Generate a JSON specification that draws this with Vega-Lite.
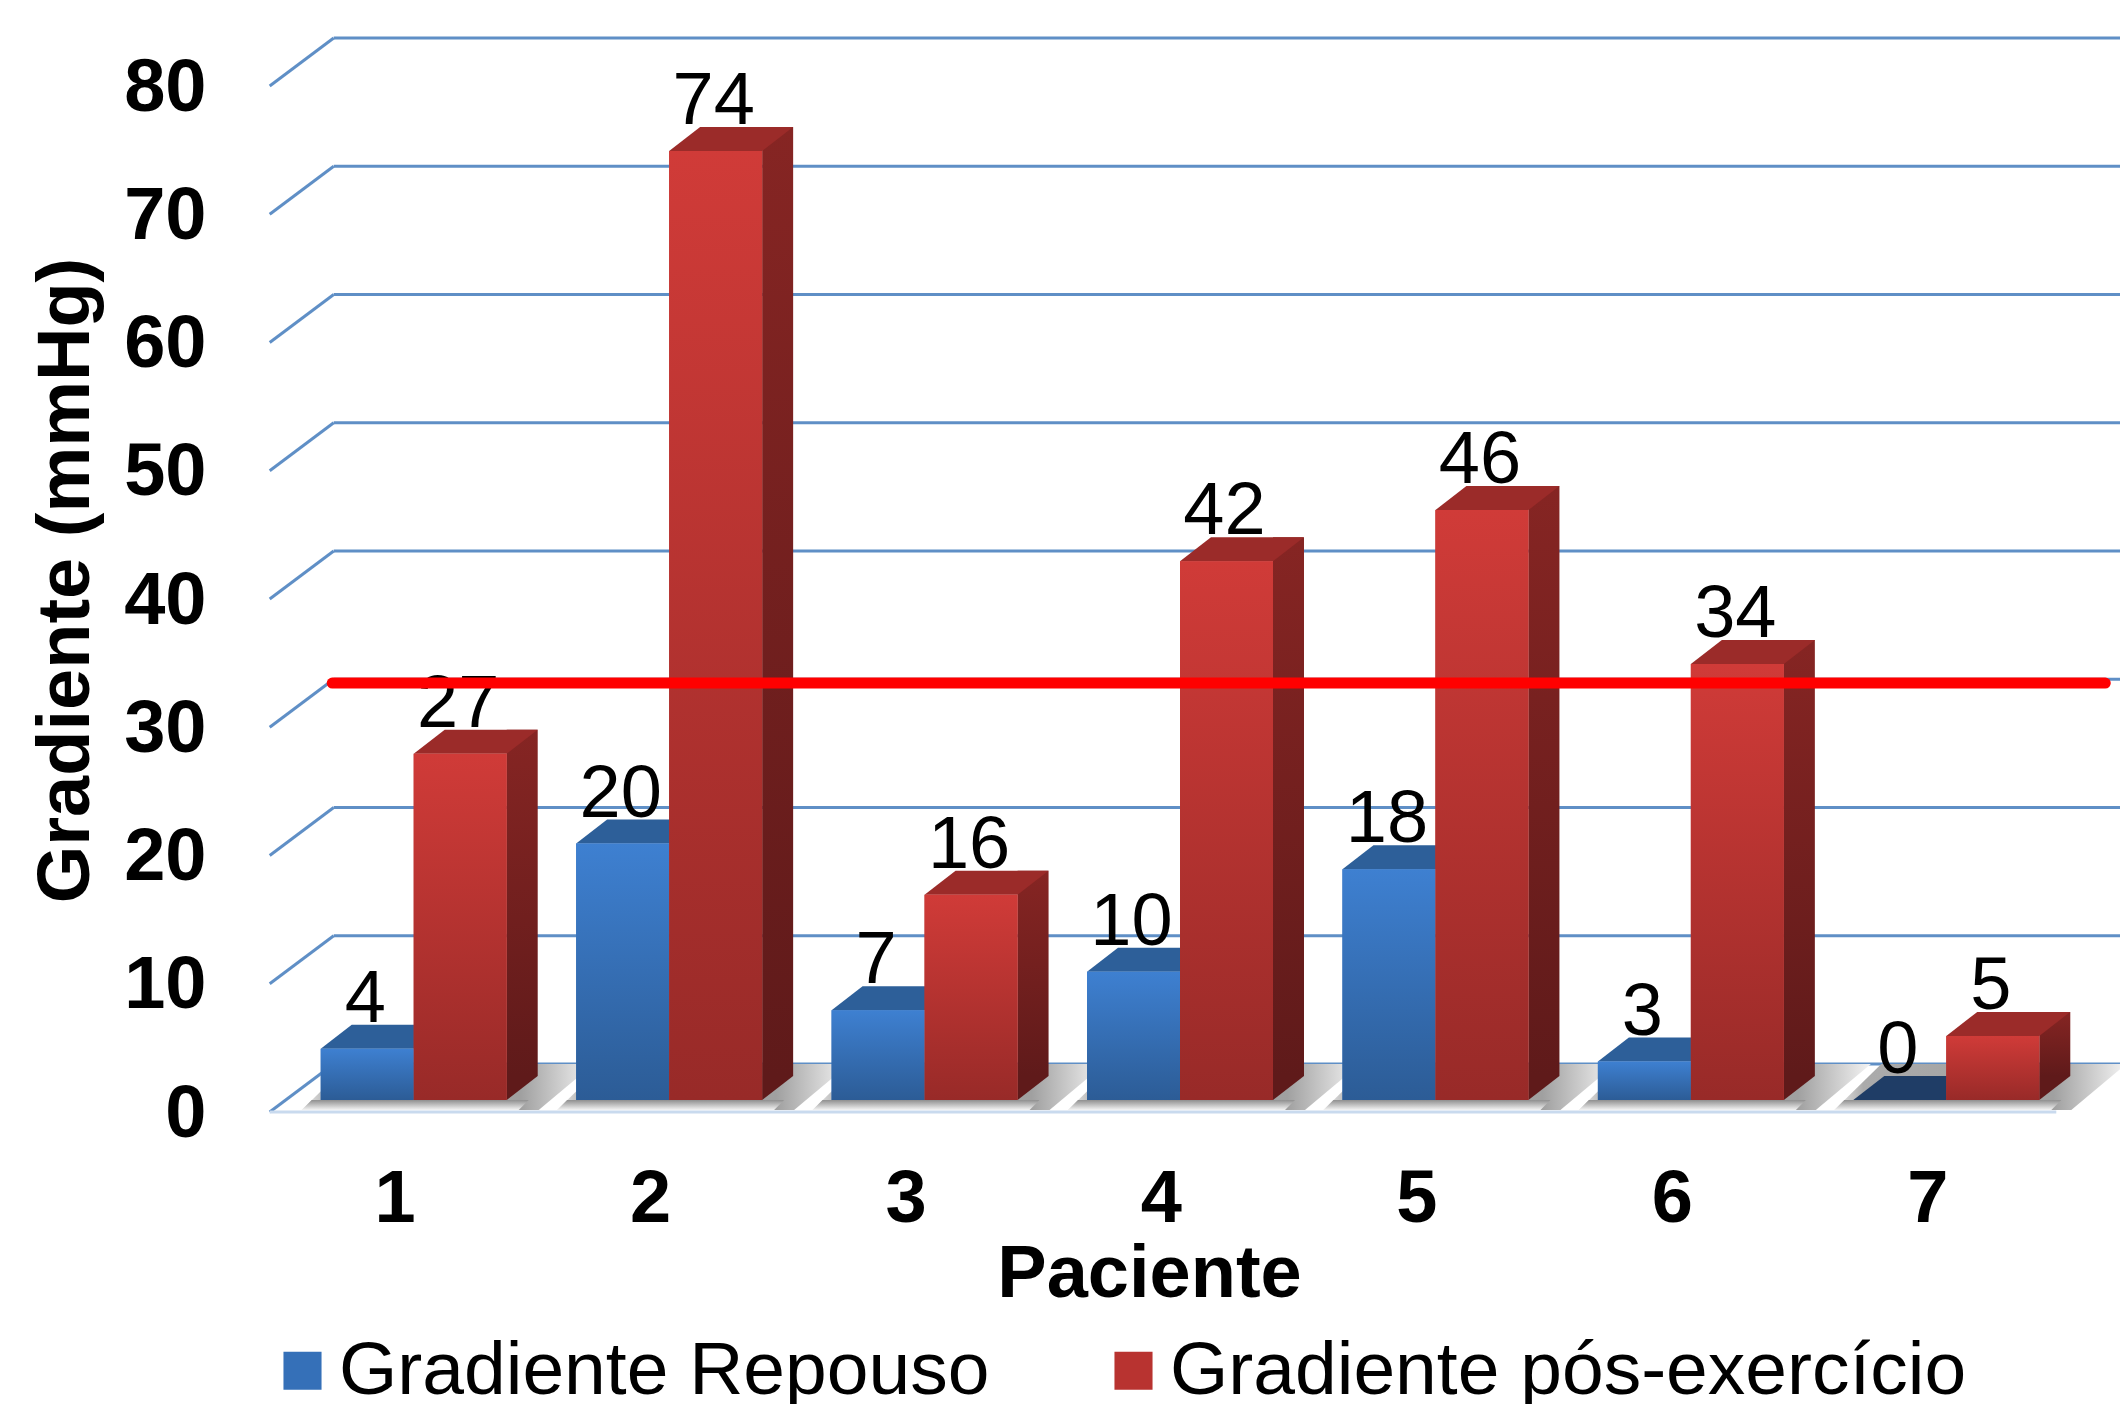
{
"$schema":"https://vega.github.io/schema/vega-lite/v6.json",
"width":1788,"height":1026,
"autosize":{"type":"none"},
"padding":{"left":286,"top":74,"right":46,"bottom":304},
"background":"white",
"config":{"view":{"stroke":null},"font":"Liberation Sans"},
"datasets":{
"barras":[
{"paciente":"1","serie":"Gradiente Repouso","valor":4},{"paciente":"1","serie":"Gradiente pós-exercício","valor":27},
{"paciente":"2","serie":"Gradiente Repouso","valor":20},{"paciente":"2","serie":"Gradiente pós-exercício","valor":74},
{"paciente":"3","serie":"Gradiente Repouso","valor":7},{"paciente":"3","serie":"Gradiente pós-exercício","valor":16},
{"paciente":"4","serie":"Gradiente Repouso","valor":10},{"paciente":"4","serie":"Gradiente pós-exercício","valor":42},
{"paciente":"5","serie":"Gradiente Repouso","valor":18},{"paciente":"5","serie":"Gradiente pós-exercício","valor":46},
{"paciente":"6","serie":"Gradiente Repouso","valor":3},{"paciente":"6","serie":"Gradiente pós-exercício","valor":34},
{"paciente":"7","serie":"Gradiente Repouso","valor":0},{"paciente":"7","serie":"Gradiente pós-exercício","valor":5}
],
"grade":[{"v":0},{"v":10},{"v":20},{"v":30},{"v":40},{"v":50},{"v":60},{"v":70},{"v":80}],
"grupos":[{"paciente":"1"},{"paciente":"2"},{"paciente":"3"},{"paciente":"4"},{"paciente":"5"},{"paciente":"6"},{"paciente":"7"}]
},
"layer":[
{"data":{"name":"grade"},
"mark":{"type":"rule","stroke":"#5f8fc6","strokeWidth":3,"xOffset":-80,"x2Offset":176,"yOffset":-36},
"encoding":{"x":{"datum":"1","type":"nominal"},"x2":{"datum":"7"},"y":{"field":"v","type":"quantitative","scale":{"domain":[0,80],"nice":false,"zero":false},
"axis":{"title":"Gradiente (mmHg)","titleFontSize":74,"titleFont":"Liberation Sans","titleFontWeight":"bold","titleColor":"black","titleX":-182,"titleY":506,"labelFontSize":74,"labelFont":"Liberation Sans","labelFontWeight":"bold","labelColor":"black","labelPadding":80,"labelOffset":14,"ticks":false,"domain":false,"grid":false,"values":[0,10,20,30,40,50,60,70,80]}}}},
{"data":{"name":"grade"},
"mark":{"type":"point","shape":"M-144,12L-80,-36","size":4,"filled":false,"stroke":"#5f8fc6","strokeWidth":3,"opacity":1},
"encoding":{"x":{"datum":"1","type":"nominal"},"y":{"field":"v","type":"quantitative"}}},
{"data":{"name":"grupos"},
"mark":{"type":"point","shape":"M-112,10L125,10L180,-36L-65,-36Z","size":4,"filled":true,"stroke":null,"opacity":1,
"fill":{"gradient":"linear","x1":0,"y1":0,"x2":1,"y2":0,"stops":[{"offset":0,"color":"#ececec"},{"offset":0.1,"color":"#ababab"},{"offset":0.75,"color":"#a0a0a0"},{"offset":1,"color":"#f4f4f4"}]}},
"encoding":{"x":{"field":"paciente","type":"nominal","scale":{"paddingInner":0.272,"paddingOuter":0.136},
"axis":{"title":"Paciente","titleFontSize":74,"titleFont":"Liberation Sans","titleFontWeight":"bold","titleColor":"black","titleX":863,"titleY":138,"labelFontSize":74,"labelFont":"Liberation Sans","labelFontWeight":"bold","labelColor":"black","labelAngle":0,"labelPadding":99,"labelOffset":2,"ticks":false,"domain":false,"grid":false}},
"y":{"datum":0,"type":"quantitative"}}},
{"data":{"name":"grupos"},
"mark":{"type":"point","shape":"M-102,0L115,0L105,10L-112,10Z","size":4,"filled":true,"stroke":null,"opacity":1,
"fill":{"gradient":"linear","x1":0,"y1":0,"x2":0,"y2":1,"stops":[{"offset":0,"color":"#8f8f8f"},{"offset":1,"color":"#f4f4f4"}]}},
"encoding":{"x":{"field":"paciente","type":"nominal"},"y":{"datum":0,"type":"quantitative"}}},
{"data":{"name":"grade"},"transform":[{"filter":"datum.v===0"}],
"mark":{"type":"rule","stroke":"#c9daee","strokeWidth":3,"xOffset":-144,"x2Offset":110,"yOffset":12},
"encoding":{"x":{"datum":"1","type":"nominal"},"x2":{"datum":"7"},"y":{"field":"v","type":"quantitative"}}},
{"data":{"name":"barras"},"transform":[{"filter":"datum.serie==='Gradiente Repouso'"}],
"mark":{"type":"point","shape":"M-46.5,0L46.5,0L77.5,-24L-15.5,-24Z","size":4,"filled":true,"stroke":null,"opacity":1},
"encoding":{"x":{"field":"paciente","type":"nominal"},"xOffset":{"field":"serie","scale":{"domain":["Gradiente Repouso","Gradiente pós-exercício"]}},"y":{"field":"valor","type":"quantitative"},
"fill":{"condition":{"test":"datum.valor===0","value":"#1f3d66"},"value":"#2d5f99"}}},
{"data":{"name":"barras"},"transform":[{"filter":"datum.serie==='Gradiente pós-exercício'"}],
"mark":{"type":"bar","width":31,"xOffset":108.5,"yOffset":-24,"y2Offset":-24,"cornerRadius":0,
"color":{"gradient":"linear","x1":0,"y1":0,"x2":0,"y2":1,"stops":[{"offset":0,"color":"#862523"},{"offset":1,"color":"#5f1a1a"}]}},
"encoding":{"x":{"field":"paciente","type":"nominal"},"y":{"field":"valor","type":"quantitative"},"y2":{"datum":0}}},
{"data":{"name":"barras"},"transform":[{"filter":"datum.serie==='Gradiente pós-exercício'"}],
"mark":{"type":"point","shape":"M46.5,0L77.5,-24L46.5,-24Z","size":4,"filled":true,"stroke":null,"opacity":1,"fill":"#5f1a1a"},
"encoding":{"x":{"field":"paciente","type":"nominal"},"xOffset":{"field":"serie"},"y":{"datum":0,"type":"quantitative"}}},
{"data":{"name":"barras"},"transform":[{"filter":"datum.serie==='Gradiente pós-exercício'"}],
"mark":{"type":"point","shape":"M-46.5,0L46.5,0L77.5,-24L-15.5,-24Z","size":4,"filled":true,"stroke":null,"opacity":1,"fill":"#9b2b29"},
"encoding":{"x":{"field":"paciente","type":"nominal"},"xOffset":{"field":"serie"},"y":{"field":"valor","type":"quantitative"}}},
{"data":{"name":"barras"},
"mark":{"type":"bar","cornerRadius":0},
"encoding":{"x":{"field":"paciente","type":"nominal"},"xOffset":{"field":"serie"},"y":{"field":"valor","type":"quantitative"},
"color":{"field":"serie","type":"nominal","sort":null,
"scale":{"domain":["Gradiente Repouso","Gradiente pós-exercício"],"range":["#3570b8","#b83330"]},
"legend":{"title":null,"orient":"none","legendX":-21,"legendY":1259,"direction":"horizontal","columns":2,"symbolType":"square","symbolSize":1450,"symbolStrokeWidth":0,"labelFontSize":75,"labelFont":"Liberation Sans","labelColor":"black","labelOffset":-1,"labelLimit":1200,"columnPadding":106,"padding":0,
"encode":{"symbols":{"update":{"fill":[{"test":"datum.label==='Gradiente Repouso'","value":{"gradient":"linear","x1":0,"y1":0,"x2":0,"y2":1,"stops":[{"offset":0,"color":"#3e80d1"},{"offset":1,"color":"#2c5c96"}]}},{"value":{"gradient":"linear","x1":0,"y1":0,"x2":0,"y2":1,"stops":[{"offset":0,"color":"#d03b38"},{"offset":1,"color":"#982a28"}]}}]}}}}}}},
{"data":{"name":"barras"},"transform":[{"filter":"datum.serie==='Gradiente Repouso'"}],
"mark":{"type":"bar","cornerRadius":0,"color":{"gradient":"linear","x1":0,"y1":0,"x2":0,"y2":1,"stops":[{"offset":0,"color":"#3e80d1"},{"offset":1,"color":"#2c5c96"}]}},
"encoding":{"x":{"field":"paciente","type":"nominal"},"xOffset":{"field":"serie"},"y":{"field":"valor","type":"quantitative"}}},
{"data":{"name":"barras"},"transform":[{"filter":"datum.serie==='Gradiente pós-exercício'"}],
"mark":{"type":"bar","cornerRadius":0,"color":{"gradient":"linear","x1":0,"y1":0,"x2":0,"y2":1,"stops":[{"offset":0,"color":"#d03b38"},{"offset":1,"color":"#982a28"}]}},
"encoding":{"x":{"field":"paciente","type":"nominal"},"xOffset":{"field":"serie"},"y":{"field":"valor","type":"quantitative"}}},
{"data":{"name":"barras"},
"mark":{"type":"text","font":"Liberation Sans","fontSize":74,"color":"black","baseline":"alphabetic","align":"center","dy":-27,"dx":-2},
"encoding":{"x":{"field":"paciente","type":"nominal"},"xOffset":{"field":"serie"},"y":{"field":"valor","type":"quantitative"},"text":{"field":"valor","type":"quantitative"}}},
{"data":{"values":[{"limite":29.7}]},
"mark":{"type":"rule","stroke":"#ff0000","strokeWidth":11,"strokeCap":"round","xOffset":-81.5,"x2Offset":159,"yOffset":-36},
"encoding":{"x":{"datum":"1","type":"nominal"},"x2":{"datum":"7"},"y":{"field":"limite","type":"quantitative"}}}
]
}
